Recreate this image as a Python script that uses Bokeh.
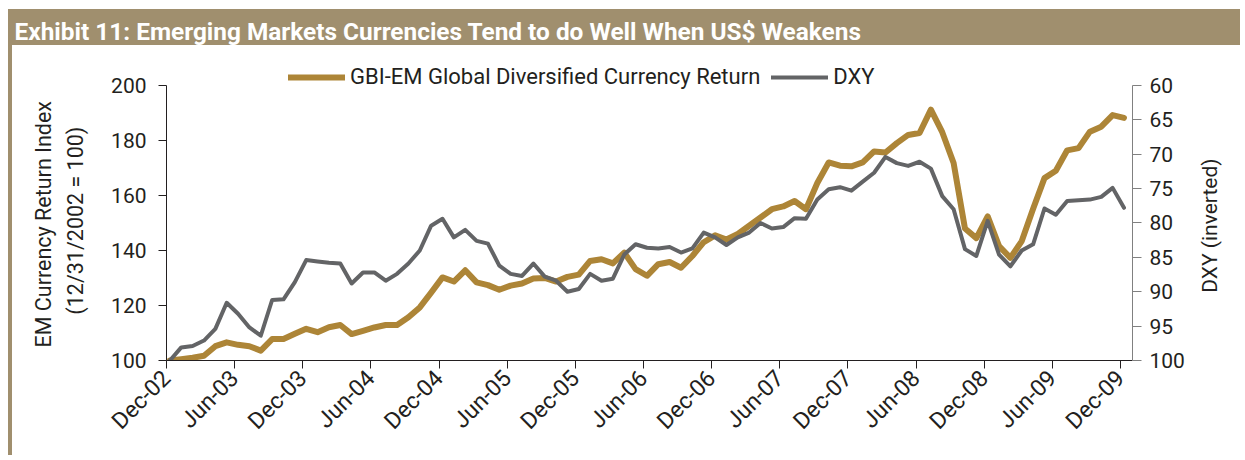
import math
from bokeh.plotting import figure
from bokeh.models import (Range1d, LinearAxis, FixedTicker, Legend, LegendItem, Title)
from bokeh.embed import file_html
from bokeh.resources import INLINE

# ---------------- data ----------------
TITLE = "Exhibit 11: Emerging Markets Currencies Tend to do Well When US$ Weakens"
SERIES_GBI = "GBI-EM Global Diversified Currency Return"
SERIES_DXY = "DXY"
LEFT_LABEL_1 = "EM Currency Return Index"
LEFT_LABEL_2 = "(12/31/2002 = 100)"
RIGHT_LABEL = "DXY (inverted)"

tick_labels = ["Dec-02", "Jun-03", "Dec-03", "Jun-04", "Dec-04", "Jun-05", "Dec-05",
               "Jun-06", "Dec-06", "Jun-07", "Dec-07", "Jun-08", "Dec-08", "Jun-09",
               "Dec-09"]
tick_months = [0, 6, 12, 18, 24, 30, 36, 42, 48, 54, 60, 66, 72, 78, 84]

# monthly observations, Dec-02 .. Dec-09 (month-end, shown a little after each tick)
month_pos = [m + 0.3 for m in range(85)]

gbi_em = [100.0, 100.5, 101.0, 101.7, 105.2, 106.6, 105.7, 105.2, 103.6, 107.8,
          107.8, 109.7, 111.5, 110.3, 112.1, 112.9, 109.6, 110.8, 112.0, 112.9,
          112.9, 115.7, 119.3, 124.7, 130.2, 128.7, 132.8, 128.4, 127.4, 125.7,
          127.2, 128.0, 129.8, 130.0, 128.7, 130.4, 131.2, 136.2, 136.8, 135.3,
          139.2, 133.2, 130.8, 135.0, 135.8, 133.7, 138.0, 143.0, 145.5, 144.0,
          146.0, 149.0, 152.0, 155.0, 156.0, 158.0, 155.0, 164.5, 172.0, 170.8,
          170.6, 172.0, 176.0, 175.6, 179.0, 182.0, 182.7, 191.2, 183.0, 171.8,
          148.0, 144.5, 152.4, 141.6, 137.3, 143.4, 155.2, 166.3, 169.0, 176.4,
          177.2, 183.2, 185.0, 189.2, 188.2]

dxy = [100.0, 98.1, 97.9, 97.1, 95.4, 91.6, 93.2, 95.2, 96.4, 91.2,
       91.1, 88.6, 85.4, 85.6, 85.8, 85.9, 88.8, 87.2, 87.2, 88.4,
       87.4, 85.9, 84.0, 80.4, 79.4, 82.1, 81.0, 82.6, 83.0, 86.2,
       87.4, 87.7, 85.9, 87.8, 88.4, 90.0, 89.6, 87.4, 88.4, 88.1,
       84.6, 83.1, 83.6, 83.7, 83.5, 84.3, 83.7, 81.4, 82.1, 83.2,
       82.1, 81.4, 80.0, 80.8, 80.6, 79.3, 79.4, 76.6, 75.1, 74.8,
       75.3, 74.0, 72.7, 70.4, 71.3, 71.7, 71.1, 72.1, 76.1, 78.0,
       83.8, 84.8, 79.7, 84.6, 86.3, 84.0, 83.1, 77.9, 78.8, 76.8,
       76.7, 76.6, 76.2, 74.9, 77.8]

left_ticks = [100, 120, 140, 160, 180, 200]
right_ticks = [60, 65, 70, 75, 80, 85, 90, 95, 100]
LEFT_MIN, LEFT_MAX = 100, 200
RIGHT_MIN, RIGHT_MAX = 60, 100

# ---------------- style / layout ----------------
FONT = "Roboto"
BAR = "#A08F6E"
GOLD = "#AD8537"
GREY = "#636466"
TXT = "#231F20"
NBSP = "\u00a0"

W, H = 1240, 455
FRAME_L, FRAME_R, FRAME_T, FRAME_B = 166, 1132, 58, 360
AXIS_TOP = 84          # pixel row of the 200 / 60 ticks
px = FRAME_B - AXIS_TOP
head = AXIS_TOP - FRAME_T  # room above the axes for the legend
left_end = LEFT_MAX + head * (LEFT_MAX - LEFT_MIN) / px
right_end = RIGHT_MIN - head * (RIGHT_MAX - RIGHT_MIN) / px

p = figure(width=W, height=H, x_range=Range1d(0, 85.05),
           y_range=Range1d(LEFT_MIN, left_end),
           output_backend="svg", toolbar_location=None,
           min_border_left=FRAME_L, min_border_right=W - FRAME_R,
           min_border_top=FRAME_T, min_border_bottom=H - FRAME_B)
p.extra_y_ranges = {"dxy": Range1d(RIGHT_MAX, right_end)}
p.outline_line_color = None
p.xgrid.visible = False
p.ygrid.visible = False
p.background_fill_color = "white"
p.border_fill_alpha = 0
p.styles = {
    "background": (f"linear-gradient({BAR}, {BAR}) 8px 9px / 100% 36px no-repeat, "
                   f"linear-gradient({BAR}, {BAR}) 8px 45px / 4px 100% no-repeat, #ffffff")
}

r_gbi = p.line(month_pos, gbi_em, line_color=GOLD, line_width=6, line_join="round",
               line_cap="round")
r_dxy = p.line(month_pos, dxy, line_color=GREY, line_width=4, line_join="round",
               line_cap="round", y_range_name="dxy")

# x axis
xa = p.xaxis[0]
xa.ticker = FixedTicker(ticks=tick_months)
xa.major_label_overrides = {m: lab for m, lab in zip(tick_months, tick_labels)}
xa.major_label_orientation = math.pi / 4
xa.major_label_text_font = FONT
xa.major_label_text_font_size = "23px"
xa.major_label_text_color = TXT
xa.major_label_standoff = 6
xa.major_tick_in = 0
xa.major_tick_out = 8
xa.minor_tick_line_color = None
xa.axis_line_color = TXT
xa.major_tick_line_color = TXT

# left axis
ya = p.yaxis[0]
ya.ticker = FixedTicker(ticks=left_ticks)
ya.bounds = (LEFT_MIN, LEFT_MAX)
ya.major_label_text_font = FONT
ya.major_label_text_font_size = "21px"
ya.major_label_text_color = TXT
ya.major_label_standoff = 12
ya.major_tick_in = 0
ya.major_tick_out = 8
ya.minor_tick_line_color = None
ya.axis_line_color = TXT
ya.major_tick_line_color = TXT
# trailing no-break spaces centre the visible label on the 100-200 axis span
ya.axis_label = LEFT_LABEL_2 + NBSP * 4
ya.axis_label_text_font = FONT
ya.axis_label_text_font_size = "21.5px"
ya.axis_label_text_font_style = "normal"
ya.axis_label_text_color = TXT
ya.axis_label_standoff = 20

p.add_layout(Title(text=LEFT_LABEL_1, align="left", offset=13, text_font=FONT,
                   text_font_size="21.5px", text_font_style="normal",
                   text_color=TXT), "left")

# right axis
ra = LinearAxis(y_range_name="dxy", ticker=FixedTicker(ticks=right_ticks))
ra.bounds = (RIGHT_MIN, RIGHT_MAX)
ra.major_label_text_font = FONT
ra.major_label_text_font_size = "21px"
ra.major_label_text_color = TXT
ra.major_label_standoff = 8
ra.major_tick_in = 0
ra.major_tick_out = 9
ra.minor_tick_line_color = None
ra.axis_line_color = "#808080"
ra.major_tick_line_color = "#808080"
right_label = RIGHT_LABEL
try:
    ra.axis_label_align = "end"
    # leading no-break spaces lift the label start to the middle of the 60-100 span
    right_label = NBSP * 13 + RIGHT_LABEL
except Exception:
    pass
ra.axis_label = right_label
ra.axis_label_text_font = FONT
ra.axis_label_text_font_size = "21px"
ra.axis_label_text_font_style = "normal"
ra.axis_label_text_color = TXT
ra.axis_label_standoff = 22
try:
    ra.axis_label_orientation = math.pi / 2   # read bottom-to-top like the reference
except Exception:
    pass
p.add_layout(ra, "right")

# legend inside the (extended) frame, above the 200 line
legend = Legend(items=[LegendItem(label=SERIES_GBI, renderers=[r_gbi]),
                       LegendItem(label=SERIES_DXY, renderers=[r_dxy])],
                orientation="horizontal", location=(122, 271),
                label_text_font=FONT, label_text_font_size="22px",
                label_text_color=TXT, glyph_width=57, glyph_height=20,
                label_height=20, label_standoff=5, spacing=11, padding=0,
                margin=0, background_fill_alpha=0, border_line_alpha=0)
p.add_layout(legend)

# title text on top of the brown band
p.add_layout(Title(text=TITLE, align="left", offset=14 - FRAME_L, standoff=28,
                   text_font=FONT, text_font_size="24.4px", text_font_style="bold",
                   text_color="white", vertical_align="bottom"), "above")

with open("out.html", "w") as f:
    f.write(file_html(p, INLINE))
